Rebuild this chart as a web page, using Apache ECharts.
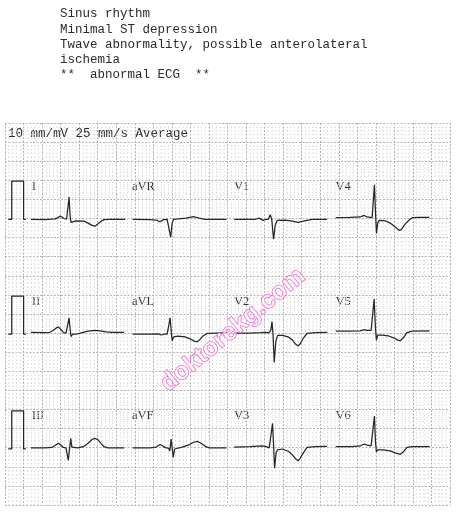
<!DOCTYPE html>
<html><head><meta charset="utf-8">
<script src="https://cdn.jsdelivr.net/npm/echarts@6/dist/echarts.min.js"></script>
<style>html,body{margin:0;padding:0;background:#fff;}#c{width:457px;height:512px;}</style>
</head><body><div id="c"></div>
<script>
// Interpretation text
const headerLines = ['Sinus rhythm','Minimal ST depression','Twave abnormality, possible anterolateral','ischemia','**  abnormal ECG  **'];
const settingsText = '10 mm/mV 25 mm/s Average';
const watermark = 'doktorekg.com';

// Lead layout: 3 rows x 4 columns
const leadNames = [['I','aVR','V1','V4'],['II','aVL','V2','V5'],['III','aVF','V3','V6']];

// Averaged beats: [time ms, amplitude mV]
const calPulse = [[0,0],[37,0],[37,1],[165,1],[165,0],[190,0]];
const leadI = [[0,0],[151,-0.01],[259,0.01],[281,0.03],[313,0.08],[335,0.06],[357,0.02],[384,0],[395,-0.03],[411,0.58],[422,0.1],[432,-0.08],[443,-0.04],[486,-0.04],[573,-0.05],[616,-0.1],[659,-0.16],[692,-0.18],[724,-0.12],[757,-0.05],[789,-0.01],[832,0],[1016,0]];
const leadAVR = [[0,0],[187,-0.01],[252,-0.02],[284,-0.06],[306,-0.05],[328,-0.01],[371,0],[392,0.03],[409,-0.47],[425,-0.1],[441,0],[490,0.01],[576,0.03],[652,0.07],[717,0.03],[782,0],[1010,0]];
const leadV1 = [[0,0],[227,0],[270,0.03],[313,-0.03],[346,0],[368,0],[389,0.12],[405,0],[425,-0.52],[443,-0.15],[465,-0.03],[551,-0.02],[627,-0.05],[692,-0.08],[746,-0.05],[800,-0.02],[843,0],[1002,0]];
const leadV4 = [[0,0.04],[155,0.05],[263,0.06],[306,0.1],[338,0.06],[370,0.05],[392,0.04],[403,0],[417,0.9],[428,0.2],[439,-0.37],[452,-0.1],[468,-0.03],[533,-0.04],[587,-0.1],[641,-0.2],[684,-0.29],[706,-0.27],[749,-0.12],[792,-0.02],[825,0.04],[911,0.05],[1009,0.05]];
const leadII = [[0,0.05],[151,0.04],[205,0.05],[238,0.1],[270,0.16],[295,0.19],[324,0.12],[351,0.04],[378,0.03],[395,0],[411,0.43],[422,0.15],[432,-0.06],[449,0],[486,0],[551,0.04],[616,0.08],[692,0.1],[746,0.09],[811,0.06],[876,0.05],[1005,0.05]];
const leadAVL = [[0,0],[187,0],[273,0.01],[306,-0.02],[338,0],[371,0],[387,-0.02],[403,0.43],[414,0.1],[425,-0.17],[441,-0.07],[490,-0.05],[565,-0.07],[619,-0.12],[663,-0.18],[695,-0.2],[728,-0.13],[760,-0.04],[803,0.02],[890,0.03],[1020,0.04]];
const leadV2 = [[0,0.03],[173,0.03],[281,0.04],[335,0.05],[378,0.04],[395,0.1],[408,0.33],[419,0],[432,-0.74],[449,-0.2],[468,-0.03],[519,-0.03],[584,-0.07],[627,-0.15],[659,-0.25],[689,-0.31],[713,-0.25],[746,-0.1],[786,0.02],[876,0.04],[1005,0.05]];
const leadV5 = [[0,0.08],[155,0.08],[263,0.09],[306,0.12],[338,0.1],[381,0.1],[398,0.08],[414,0.92],[427,0.2],[438,-0.15],[452,-0.02],[500,-0.02],[565,-0.04],[630,-0.1],[673,-0.16],[695,-0.17],[727,-0.1],[767,0.04],[825,0.08],[1012,0.09]];
const leadIII = [[0,0.03],[151,0.03],[227,0.04],[259,0.09],[295,0.15],[324,0.1],[351,0.04],[378,0.03],[389,0],[403,-0.3],[416,0],[429,0.28],[441,0.05],[454,0.02],[508,0.03],[573,0.07],[616,0.15],[659,0.25],[692,0.28],[724,0.24],[757,0.14],[789,0.06],[832,0.03],[1005,0.03]];
const leadAVF = [[0,0.03],[187,0.03],[252,0.05],[295,0.12],[328,0.07],[360,0.03],[387,0.02],[400,-0.05],[414,0.26],[427,0],[436,-0.22],[452,0],[468,0.03],[533,0.05],[598,0.1],[652,0.17],[695,0.2],[738,0.15],[782,0.07],[825,0.03],[1010,0.03]];
const leadV3 = [[0,0.05],[173,0.06],[303,0.08],[346,0.06],[378,0.03],[395,0.05],[414,0.67],[425,0.1],[436,-0.5],[452,-0.1],[468,-0.02],[519,0],[584,-0.06],[627,-0.15],[659,-0.25],[689,-0.31],[713,-0.24],[746,-0.1],[786,0.04],[876,0.06],[1002,0.07]];
const leadV6 = [[0,0.06],[176,0.06],[263,0.08],[306,0.13],[338,0.1],[381,0.08],[401,0.05],[417,0.86],[428,0.2],[438,-0.08],[452,-0.02],[511,-0.02],[587,-0.05],[641,-0.1],[695,-0.14],[727,-0.08],[767,0.04],[825,0.06],[1012,0.06]];

const leadData = [[leadI,leadAVR,leadV1,leadV4],[leadII,leadAVL,leadV2,leadV5],[leadIII,leadAVF,leadV3,leadV6]];

// paper layout (mm): 25 mm/s, 10 mm/mV
const colStart = [7.0, 34.45, 61.8, 89.2];
const rowBase = [74.8, 44.7, 14.66];
const calStart = 0.89;
const MS_PER_MM = 40, MM_PER_MV = 10;

function toPaper(arr, x0, y0){ return arr.map(p => [x0 + p[0]/MS_PER_MM, y0 + p[1]*MM_PER_MV]); }

const chart = echarts.init(document.getElementById('c'), null, {renderer:'canvas'});
const traceStyle = {color:'#262626', width:1.25};
const series = [];
for (let r=0;r<3;r++){
  series.push({type:'line', data: toPaper(calPulse, calStart, rowBase[r]), showSymbol:false, lineStyle:traceStyle, silent:true, animation:false});
  for (let c=0;c<4;c++){
    series.push({type:'line', data: toPaper(leadData[r][c], colStart[c], rowBase[r]), showSymbol:false, lineStyle:traceStyle, silent:true, animation:false});
  }
}

const graphics = [];
const monoFont = '12.5px "Liberation Mono", monospace';
headerLines.forEach((t,i)=>{
  graphics.push({type:'text', left:60, top: 7.5 + i*15.2, style:{text:t, font:monoFont, fill:'#2a2a2a'}});
});
graphics.push({type:'text', left:8, top:127, style:{text:settingsText, font:monoFont, fill:'#2a2a2a'}});
const labelX = [32, 132, 234, 335.5];
const labelY = [187, 302, 416];
for (let r=0;r<3;r++) for (let c=0;c<4;c++){
  graphics.push({type:'text', x:labelX[c], y:labelY[r], style:{text:leadNames[r][c], font:'12.5px "Liberation Serif", serif', fill:'#333', textVerticalAlign:'middle', verticalAlign:'middle'}});
}
graphics.push({type:'text', x:233, y:330, rotation: 39.5*Math.PI/180, z:100,
  style:{text:watermark, font:'bold 25px "Liberation Sans", sans-serif', fill:'rgba(255,255,255,0.6)', stroke:'#f04fc8', lineWidth:1, textAlign:'center', textVerticalAlign:'middle', align:'center', verticalAlign:'middle'}});

const axisCommon = {
  type:'value', axisLine:{show:false}, axisTick:{show:false}, axisLabel:{show:false},
  splitLine:{show:true, lineStyle:{color:'#b4b4b4', type:[2,1.5], width:1}},
  minorTick:{show:false, splitNumber:5},
  minorSplitLine:{show:true, lineStyle:{color:'#d8d8d8', type:[1,2.7], width:1}}
};

chart.setOption({
  animation:false,
  backgroundColor:'#fff',
  grid:{left:5, top:123, width:445, height:382, containLabel:false},
  xAxis: Object.assign({}, axisCommon, {min:0, max:120, interval:5}),
  yAxis: Object.assign({}, axisCommon, {min:0, max:100, interval:5}),
  series: series,
  graphic: graphics
});
</script></body></html>
